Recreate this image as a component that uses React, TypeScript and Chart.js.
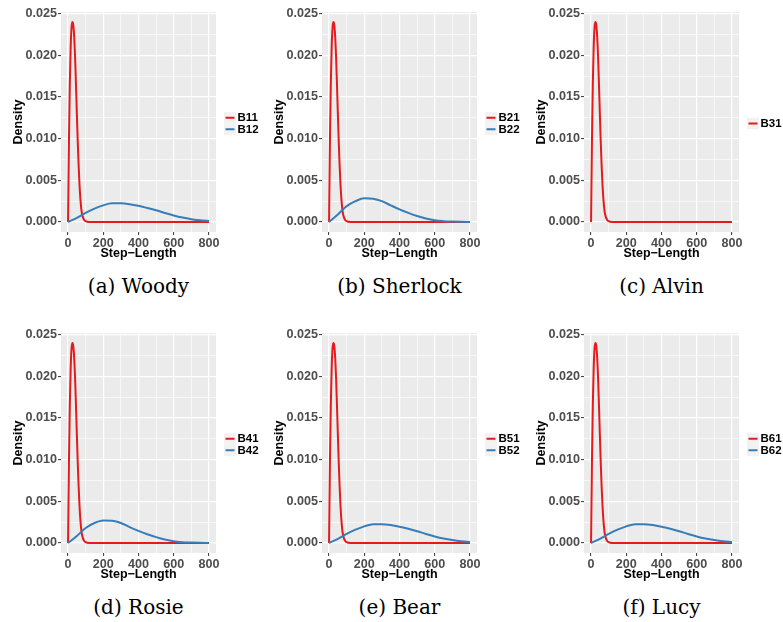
import React, { useEffect, useRef } from 'react';
import { Chart, registerables } from 'chart.js';

Chart.register(...registerables);

// ---------- data ----------
const xTickValues = [0, 200, 400, 600, 800];
const xMinorValues = [100, 300, 500, 700];
const yTickValues = [0, 0.005, 0.01, 0.015, 0.02, 0.025];
const yMinorValues = [0.0025, 0.0075, 0.0125, 0.0175, 0.0225];
const yTickLabels = ['0.000', '0.005', '0.010', '0.015', '0.020', '0.025'];

const panelCaptions = ['(a) Woody', '(b) Sherlock', '(c) Alvin', '(d) Rosie', '(e) Bear', '(f) Lucy'];
const redLabels = ['B11', 'B21', 'B31', 'B41', 'B51', 'B61'];
const blueLabels = ['B12', 'B22', null, 'B42', 'B52', 'B62'];

// short-step state (red) (same in every panel)
const redStep = [0, 5, 10, 15, 20, 25, 30, 35, 40, 45, 50, 55, 60, 65, 70, 75, 80, 90, 100, 120, 200, 400, 600, 800];
const redDensity = [0, 0.0095, 0.0165, 0.021, 0.0234, 0.024, 0.0236, 0.0222, 0.0198, 0.0165, 0.013, 0.0097, 0.0068, 0.0045, 0.0028, 0.0016, 0.0009, 0.0003, 0.0001, 0, 0, 0, 0, 0];

// long-step state (blue)
const blueStep = [0, 50, 100, 150, 200, 250, 300, 350, 400, 450, 500, 550, 600, 650, 700, 750, 800];
const blueWoody = [0, 0.0005, 0.0011, 0.0016, 0.002, 0.00224, 0.00224, 0.00214, 0.00194, 0.00168, 0.0014, 0.00108, 0.00078, 0.00053, 0.00034, 0.0002, 0.00012];
const blueSherlock = [0, 0.0009, 0.0019, 0.0025, 0.00286, 0.0028, 0.0025, 0.002, 0.00152, 0.0011, 0.00072, 0.00042, 0.0002, 0.0001, 0.00005, 0.00002, 0.00001];
const blueRosie = [0, 0.00085, 0.0018, 0.0024, 0.0027, 0.00266, 0.0024, 0.0019, 0.00145, 0.00105, 0.0007, 0.00041, 0.0002, 0.0001, 0.00005, 0.00002, 0.00001];
const blueBear = [0, 0.0005, 0.0011, 0.0016, 0.002, 0.00226, 0.00226, 0.00216, 0.00196, 0.0017, 0.00141, 0.00109, 0.00079, 0.00054, 0.00035, 0.00021, 0.00012];
const blueLucy = [0, 0.0005, 0.0011, 0.0016, 0.002, 0.00226, 0.00226, 0.00216, 0.00196, 0.0017, 0.00141, 0.00109, 0.00079, 0.00054, 0.00035, 0.00021, 0.00012];
const blueSeries = [blueWoody, blueSherlock, null, blueRosie, blueBear, blueLucy];

// ---------- styling ----------
const RED = '#E41A1C';
const BLUE = '#377EB8';
const SANS = '"Liberation Sans", Arial, Helvetica, sans-serif';

const PANEL_W = 261;
const PANEL_H = 262;
const colLeft = [0, 261, 523];
const rowTop = [0, 321];

const ggLegend = {
  id: 'ggLegend',
  afterDraw(chart: any) {
    const { ctx, chartArea } = chart;
    const ds = chart.data.datasets;
    const keyH = 11.5;
    const keyW = 12;
    const total = ds.length * keyH;
    const y0 = (chartArea.top + chartArea.bottom) / 2 + 1.5 - total / 2;
    const kx = chartArea.right + 8;
    ctx.save();
    ds.forEach((d: any, i: number) => {
      const y = y0 + i * keyH;
      ctx.fillStyle = '#F2F2F2';
      ctx.fillRect(kx, y, keyW, keyH);
      ctx.strokeStyle = d.borderColor;
      ctx.lineWidth = 2;
      ctx.beginPath();
      ctx.moveTo(kx + 1.5, y + keyH / 2);
      ctx.lineTo(kx + keyW - 1.5, y + keyH / 2);
      ctx.stroke();
      ctx.fillStyle = '#000000';
      ctx.font = `bold 11.5px ${SANS}`;
      ctx.textBaseline = 'middle';
      ctx.textAlign = 'left';
      ctx.fillText(d.label, kx + keyW + 1.5, y + keyH / 2 + 0.5);
    });
    ctx.restore();
  },
};

const panelBg = {
  id: 'panelBg',
  beforeDraw(chart: any) {
    const { ctx, chartArea } = chart;
    ctx.save();
    ctx.fillStyle = '#EBEBEB';
    ctx.fillRect(chartArea.left, chartArea.top, chartArea.right - chartArea.left, chartArea.bottom - chartArea.top);
    ctx.restore();
  },
};

function isMajor(arr: number[], c: any) {
  return c && c.tick && arr.includes(c.tick.value);
}

function Panel({ index }: { index: number }) {
  const ref = useRef<HTMLCanvasElement>(null);
  const col = index % 3;
  const row = Math.floor(index / 3);
  const left = colLeft[col];
  const top = rowTop[row];

  useEffect(() => {
    const datasets: any[] = [
      {
        label: redLabels[index],
        data: redStep.map((x, j) => ({ x, y: redDensity[j] })),
        borderColor: RED,
        backgroundColor: RED,
        borderWidth: 2,
        pointRadius: 0,
        cubicInterpolationMode: 'monotone',
        fill: false,
        order: 1,
      },
    ];
    const blue = blueSeries[index];
    if (blue) {
      datasets.push({
        label: blueLabels[index],
        data: blueStep.map((x, j) => ({ x, y: blue[j] })),
        borderColor: BLUE,
        backgroundColor: BLUE,
        borderWidth: 2,
        pointRadius: 0,
        cubicInterpolationMode: 'monotone',
        fill: false,
        order: 0,
      });
    }
    const tickFont = { family: SANS, weight: 'bold' as const, size: 12.6 };
    const titleFont = { family: SANS, weight: 'bold' as const, size: 12.5 };
    const chart = new Chart(ref.current!, {
      type: 'line',
      data: { datasets },
      plugins: [panelBg, ggLegend],
      options: {
        animation: false,
        responsive: false,
        devicePixelRatio: 1,
        layout: { padding: { top: 12, right: 45, left: 0, bottom: 0 } },
        plugins: { legend: { display: false }, tooltip: { enabled: false } },
        scales: {
          x: {
            type: 'linear',
            min: -40,
            max: 840,
            afterBuildTicks: (s: any) => {
              s.ticks = [...xTickValues, ...xMinorValues].sort((a, b) => a - b).map((v) => ({ value: v }));
            },
            afterFit: (s: any) => {
              s.height = 30;
            },
            ticks: {
              autoSkip: false,
              maxRotation: 0,
              padding: 1,
              color: '#4D4D4D',
              font: tickFont,
              callback: (v: any) => (xTickValues.includes(v) ? String(v) : ''),
            },
            grid: {
              color: '#FFFFFF',
              lineWidth: (c: any) => (isMajor(xTickValues, c) ? 1.2 : 0.6),
              tickColor: (c: any) => (isMajor(xTickValues, c) ? '#333333' : 'rgba(0,0,0,0)'),
              tickLength: 3,
              tickWidth: 1,
            },
            border: { display: false },
            title: {
              display: true,
              text: 'Step\u2212Length',
              color: '#000000',
              font: titleFont,
              padding: { top: 0, bottom: 0.5 },
            },
          },
          y: {
            type: 'linear',
            min: -0.0012,
            max: 0.0252,
            afterBuildTicks: (s: any) => {
              s.ticks = [...yTickValues, ...yMinorValues].sort((a, b) => a - b).map((v) => ({ value: v }));
            },
            afterFit: (s: any) => {
              s.width = 61;
            },
            ticks: {
              autoSkip: false,
              padding: 1,
              color: '#4D4D4D',
              font: tickFont,
              callback: (v: any) => {
                const k = yTickValues.indexOf(v);
                return k >= 0 ? yTickLabels[k] : '';
              },
            },
            grid: {
              color: '#FFFFFF',
              lineWidth: (c: any) => (isMajor(yTickValues, c) ? 1.2 : 0.6),
              tickColor: (c: any) => (isMajor(yTickValues, c) ? '#333333' : 'rgba(0,0,0,0)'),
              tickLength: 3,
              tickWidth: 1,
            },
            border: { display: false },
            title: {
              display: true,
              text: 'Density',
              color: '#000000',
              font: titleFont,
              padding: { top: 11, bottom: 0 },
            },
          },
        },
      } as any,
    });
    return () => chart.destroy();
  }, [index]);

  return (
    <>
      <canvas
        ref={ref}
        width={PANEL_W}
        height={PANEL_H}
        style={{ position: 'absolute', left, top, width: PANEL_W, height: PANEL_H }}
      />
      <div
        style={{
          position: 'absolute',
          left: left + 138.5 - 110,
          top: top + 274,
          width: 220,
          textAlign: 'center',
          fontFamily: '"DejaVu Serif", serif',
          fontSize: 20,
          lineHeight: '24px',
          color: '#000',
          whiteSpace: 'nowrap',
        }}
      >
        {panelCaptions[index]}
      </div>
    </>
  );
}

export default function App() {
  return (
    <div
      style={{
        position: 'absolute',
        left: 0,
        top: 0,
        width: 783,
        height: 622,
        background: '#FFFFFF',
        overflow: 'hidden',
      }}
    >
      {[0, 1, 2, 3, 4, 5].map((i) => (
        <Panel key={i} index={i} />
      ))}
    </div>
  );
}
